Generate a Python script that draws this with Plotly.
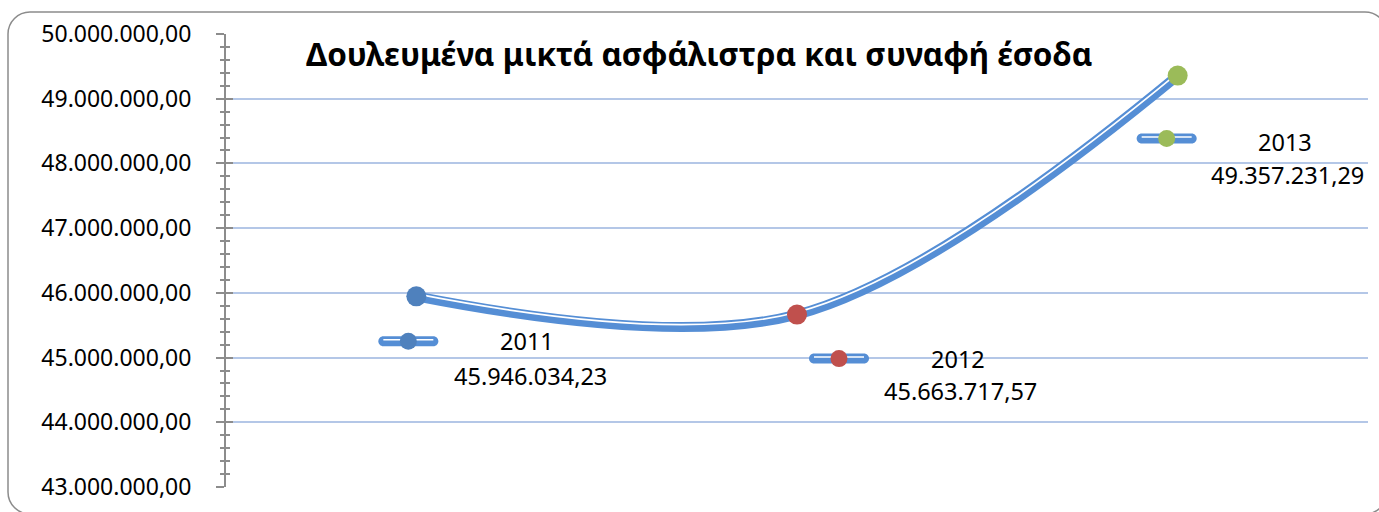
import plotly.graph_objects as go

# Data
anos = [2011, 2012, 2013]
valores = [45946034.23, 45663717.57, 49357231.29]
y_min, y_max, y_passo = 43_000_000, 50_000_000, 1_000_000

titulo = "Δουλευμένα μικτά ασφάλιστρα και συναφή έσοδα"

# Styles
COR_LINHA = "#558ed5"
cores_marcador = ["#4f81bd", "#c0504d", "#9bbb59"]
COR_EIXO = "#8c8c8c"
COR_GRADE = "#b4c7e7"
FONTE = "Noto Sans"

# plot area in pixels (window 1379x512)
MARGEM = dict(l=226, r=11, t=34, b=25)
ALTURA_PLOT = 512 - MARGEM["t"] - MARGEM["b"]

# label offsets in screen pixels (dx right, dy down) relative to each point
desloc_chave = [(-8, 45), (42, 44), (-11, 63)]
desloc_ano = [(111, 45), (161, 44), (107, 66)]
desloc_valor = [(114, 80), (163, 76), (110, 99)]


def formatar_gr(v):
    return f"{v:,.2f}".replace(",", "X").replace(".", ",").replace("X", ".")


def pilula(cx, cy, w, h):
    """Rounded-end bar path in pixel coords (y up)."""
    r = h / 2
    k = 0.5523 * r
    x0, x1 = cx - w / 2 + r, cx + w / 2 - r
    yt, yb = cy + r, cy - r
    return (
        f"M{x0},{yt} L{x1},{yt} "
        f"C{x1 + k},{yt} {x1 + r},{cy + k} {x1 + r},{cy} "
        f"C{x1 + r},{cy - k} {x1 + k},{yb} {x1},{yb} "
        f"L{x0},{yb} "
        f"C{x0 - k},{yb} {x0 - r},{cy - k} {x0 - r},{cy} "
        f"C{x0 - r},{cy + k} {x0 - k},{yt} {x0},{yt} Z"
    )


def retangulo_arredondado(x0, y0, x1, y1, r):
    k = 0.5523 * r
    return (
        f"M{x0 + r},{y1} L{x1 - r},{y1} "
        f"C{x1 - r + k},{y1} {x1},{y1 - r + k} {x1},{y1 - r} "
        f"L{x1},{y0 + r} "
        f"C{x1},{y0 + r - k} {x1 - r + k},{y0} {x1 - r},{y0} "
        f"L{x0 + r},{y0} "
        f"C{x0 + r - k},{y0} {x0},{y0 + r - k} {x0},{y0 + r} "
        f"L{x0},{y1 - r} "
        f"C{x0},{y1 - r + k} {x0 + r - k},{y1} {x0 + r},{y1} Z"
    )


unid_por_px = (y_max - y_min) / ALTURA_PLOT
valores_brilho = [v + 2.4 * unid_por_px for v in valores]

fig = go.Figure()

fig.add_trace(go.Scatter(
    x=anos, y=valores, mode="lines",
    line=dict(color=COR_LINHA, width=10, shape="spline", smoothing=1),
    hoverinfo="skip", showlegend=False,
))
fig.add_trace(go.Scatter(
    x=anos, y=valores_brilho, mode="lines",
    line=dict(color="white", width=1.7, shape="spline", smoothing=1),
    hoverinfo="skip", showlegend=False,
))
fig.add_trace(go.Scatter(
    x=anos, y=valores, mode="markers", yaxis="y2",
    marker=dict(size=20, color=cores_marcador),
    hovertemplate="%{x}: %{customdata}<extra></extra>",
    customdata=[formatar_gr(v) for v in valores],
    showlegend=False,
))

# data labels: legend key + year + value
for i, (ano, v) in enumerate(zip(anos, valores)):
    dx, dy = desloc_chave[i]
    fig.add_shape(
        type="path", xref="x", yref="y", xsizemode="pixel", ysizemode="pixel",
        xanchor=ano, yanchor=v, path=pilula(dx, -dy, 60, 10),
        fillcolor=COR_LINHA, line=dict(width=0),
    )
    fig.add_shape(
        type="line", xref="x", yref="y", xsizemode="pixel", ysizemode="pixel",
        xanchor=ano, yanchor=v, x0=dx - 25, x1=dx + 25, y0=-dy + 1.5, y1=-dy + 1.5,
        line=dict(color="white", width=1.5),
    )
    fig.add_shape(
        type="circle", xref="x", yref="y", xsizemode="pixel", ysizemode="pixel",
        xanchor=ano, yanchor=v, x0=dx - 8.5, x1=dx + 8.5, y0=-dy - 8.5, y1=-dy + 8.5,
        fillcolor=cores_marcador[i], line=dict(width=0),
    )
    ax_, ay_ = desloc_ano[i]
    fig.add_annotation(
        x=ano, y=v, text=str(ano), showarrow=False, xshift=ax_, yshift=-ay_,
        xanchor="center", yanchor="middle",
        font=dict(family=FONTE, size=23.5, color="black"),
    )
    vx, vy = desloc_valor[i]
    fig.add_annotation(
        x=ano, y=v, text=formatar_gr(v), showarrow=False, xshift=vx, yshift=-vy,
        xanchor="center", yanchor="middle",
        font=dict(family=FONTE, size=23.5, color="black"),
    )

# title inside the plot area
fig.add_annotation(
    x=0.4146, y=0.958, xref="paper", yref="paper", text=f"<b>{titulo}</b>",
    showarrow=False, xanchor="center", yanchor="middle",
    font=dict(family=FONTE, size=31.5, color="black"),
)

# rounded chart border (right and bottom edges fall just outside the window)
fig.add_shape(
    type="path", xref="paper", yref="paper", xsizemode="pixel", ysizemode="pixel",
    xanchor=0, yanchor=0,
    path=retangulo_arredondado(8 - MARGEM["l"], -(514 - (512 - MARGEM["b"])),
                               1387 - MARGEM["l"], (512 - MARGEM["b"]) - 12, 22),
    line=dict(color=COR_EIXO, width=1.5),
)

fig.update_layout(
    width=1379, height=512,
    margin=MARGEM,
    separators=",.",
    plot_bgcolor="white",
    paper_bgcolor="white",
    xaxis=dict(range=[anos[0] - 0.5, anos[-1] + 0.5], showgrid=False,
               showticklabels=False, zeroline=False, showline=False),
    yaxis=dict(
        range=[y_min, y_max], tick0=y_min, dtick=y_passo, tickformat=",.2f",
        showline=True, linecolor=COR_EIXO, linewidth=2,
        ticks="outside", ticklen=8, tickwidth=2, tickcolor=COR_EIXO,
        minor=dict(dtick=y_passo / 5, ticks="outside", ticklen=4,
                   tickwidth=1.5, tickcolor=COR_EIXO, showgrid=False),
        gridcolor=COR_GRADE, gridwidth=1.5, zeroline=False,
        ticklabelstandoff=20,
        tickfont=dict(family=FONTE, size=23, color="black"),
    ),
    yaxis2=dict(
        range=[y_min, y_max], tick0=y_min, dtick=y_passo, overlaying="y",
        side="left", anchor="x", showticklabels=False, showgrid=False,
        zeroline=False, showline=False,
        ticks="inside", ticklen=7, tickwidth=2, tickcolor=COR_EIXO,
        minor=dict(dtick=y_passo / 5, ticks="inside", ticklen=4,
                   tickwidth=1.5, tickcolor=COR_EIXO, showgrid=False),
    ),
)

# the page body has a default 8px margin; drop it so the figure fills the window
fig.write_html("out.html", config={"displayModeBar": False},
               post_script="document.body.style.margin='0';")
